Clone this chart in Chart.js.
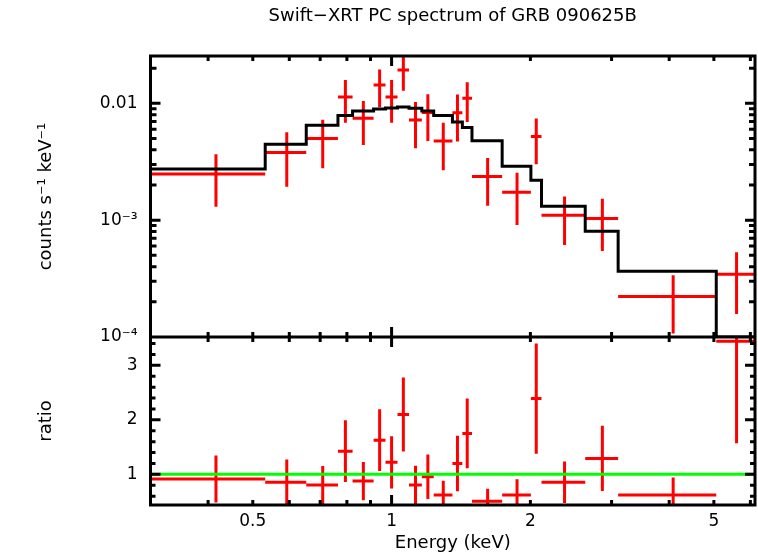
<!DOCTYPE html>
<html>
<head>
<meta charset="utf-8">
<script src="https://cdn.jsdelivr.net/npm/chart.js@4.4.1/dist/chart.umd.min.js"></script>
<style>
  html, body { margin: 0; padding: 0; background: #fff; }
  #wrap { width: 758px; height: 556px; position: relative; }
</style>
</head>
<body>
<div id="wrap"><canvas id="spec"></canvas></div>
<script>
// energy bins (keV)
const binLo = [0.300, 0.532, 0.653, 0.765, 0.823, 0.914, 0.970, 1.030, 1.091, 1.163,
               1.234, 1.355, 1.424, 1.494, 1.737, 2.005, 2.114, 2.630, 3.100, 5.060];
const binHi = [0.532, 0.653, 0.765, 0.823, 0.914, 0.970, 1.030, 1.091, 1.163, 1.234,
               1.355, 1.424, 1.494, 1.737, 2.005, 2.114, 2.630, 3.100, 5.060, 6.140];

// counts s-1 keV-1
const rate    = [2.48e-3, 3.80e-3, 5.01e-3, 1.132e-2, 7.44e-3, 1.436e-2, 1.132e-2, 1.928e-2, 7.19e-3, 8.37e-3,
                 4.75e-3, 8.31e-3, 1.104e-2, 2.37e-3, 1.73e-3, 5.21e-3, 1.104e-3, 1.034e-3, 2.22e-4, 3.44e-4];
const rateErr = [1.18e-3, 1.87e-3, 2.23e-3, 4.5e-3, 3.04e-3, 5.1e-3, 4.5e-3, 6.45e-3, 3.06e-3, 3.6e-3,
                 2.08e-3, 3.6e-3, 4.1e-3, 1.04e-3, 8.2e-4, 2.2e-3, 4.9e-4, 4.9e-4, 1.15e-4, 1.87e-4];
const model   = [2.74e-3, 4.46e-3, 6.48e-3, 7.89e-3, 8.59e-3, 8.93e-3, 9.12e-3, 9.30e-3, 9.06e-3, 8.59e-3,
                 7.89e-3, 6.92e-3, 6.22e-3, 4.78e-3, 2.90e-3, 2.20e-3, 1.318e-3, 8.05e-4, 3.66e-4, 1.0e-4];

// data / model
const ratio    = [0.914, 0.854, 0.804, 1.426, 0.877, 1.628, 1.22, 2.098, 0.804, 0.956,
                  0.621, 1.20, 1.75, 0.506, 0.621, 2.39, 0.854, 1.293, 0.621, 3.44];
const ratioErr = [0.43, 0.42, 0.35, 0.565, 0.35, 0.565, 0.48, 0.68, 0.355, 0.41,
                  0.26, 0.51, 0.64, 0.23, 0.29, 1.01, 0.38, 0.60, 0.32, 1.87];

const xTickLabels = [0.5, 1, 2, 5];
const rateTicks = [1e-4, 1e-3, 1e-2];
const rateTickText = ['10\u207b\u2074', '10\u207b\u00b3', '0.01'];
const ratioTicks = [1, 2, 3];

const FONT = 'DejaVu Sans';

// one cross per bin: horizontal bar over the bin, vertical bar at its centre
function crosses(val, err) {
  const pts = [];
  val.forEach((v, i) => {
    const c = (binLo[i] + binHi[i]) / 2;
    pts.push({x: binLo[i], y: v}, {x: binHi[i], y: v}, {x: c, y: null},
             {x: c, y: v - err[i]}, {x: c, y: v + err[i]}, {x: c, y: null});
  });
  return pts;
}

function steps(vals) {
  const pts = vals.map((v, i) => ({x: binLo[i], y: v}));
  pts.push({x: binHi[binHi.length - 1], y: vals[vals.length - 1]});
  return pts;
}

// keep each dataset inside its own panel
const panelClip = {
  id: 'panelClip',
  beforeDatasetDraw(chart, args) {
    const ys = chart.scales[args.meta.yAxisID];
    const a = chart.chartArea;
    chart.ctx.save();
    chart.ctx.beginPath();
    chart.ctx.rect(a.left, ys.top, a.right - a.left, ys.bottom - ys.top);
    chart.ctx.clip();
  },
  afterDatasetDraw(chart) {
    chart.ctx.restore();
  }
};

// box round both panels with inward ticks
const frame = {
  id: 'frame',
  afterDraw(chart) {
    const {ctx, chartArea: a} = chart;
    const {x, y, yr} = chart.scales;
    const seg = (x1, y1, x2, y2) => { ctx.moveTo(x1, y1); ctx.lineTo(x2, y2); };
    ctx.save();
    ctx.strokeStyle = '#000';
    ctx.lineWidth = 3;
    ctx.lineCap = 'butt';
    ctx.beginPath();
    for (const p of [y, yr]) {
      for (let d = -1; d <= 0; d++) {
        for (let m = 1; m <= 9; m++) {
          const v = m * Math.pow(10, d);
          if (v < x.min || v > x.max) continue;
          const px = x.getPixelForValue(v);
          const len = m === 1 ? 10 : 5;
          seg(px, p.top, px, p.top + len);
          seg(px, p.bottom, px, p.bottom - len);
        }
      }
    }
    for (let d = -4; d <= -2; d++) {
      for (let m = 1; m <= 9; m++) {
        const v = m * Math.pow(10, d);
        if (v < y.min || v > y.max) continue;
        const py = y.getPixelForValue(v);
        const len = m === 1 ? 10 : 6;
        seg(a.left, py, a.left + len, py);
        seg(a.right, py, a.right - len, py);
      }
    }
    for (let k = 1; k <= 20; k++) {
      const v = k / 5;
      if (v < yr.min || v > yr.max) continue;
      const py = yr.getPixelForValue(v);
      const len = k % 5 === 0 ? 10 : 5;
      seg(a.left, py, a.left + len, py);
      seg(a.right, py, a.right - len, py);
    }
    seg(a.left, yr.top, a.right, yr.top);
    ctx.stroke();
    ctx.strokeRect(a.left, a.top, a.right - a.left, a.bottom - a.top);
    ctx.restore();
  }
};

const tickFont = {family: FONT, size: 17};
const titleFont = {family: FONT, size: 18};

new Chart(document.getElementById('spec'), {
  type: 'line',
  data: {
    datasets: [
      {
        label: 'ratio = 1',
        data: [{x: binLo[0], y: 1}, {x: binHi[binHi.length - 1], y: 1}],
        yAxisID: 'yr',
        borderColor: '#00ff00',
        borderWidth: 3,
        pointRadius: 0
      },
      {
        label: 'model',
        data: steps(model),
        yAxisID: 'y',
        stepped: 'before',
        borderColor: '#000',
        borderWidth: 3,
        pointRadius: 0
      },
      {
        label: 'data',
        data: crosses(rate, rateErr),
        yAxisID: 'y',
        borderColor: '#ff0000',
        borderWidth: 3,
        pointRadius: 0,
        spanGaps: false
      },
      {
        label: 'ratio',
        data: crosses(ratio, ratioErr),
        yAxisID: 'yr',
        borderColor: '#ff0000',
        borderWidth: 3,
        pointRadius: 0,
        spanGaps: false
      }
    ]
  },
  options: {
    responsive: true,
    maintainAspectRatio: false,
    animation: false,
    layout: { padding: {left: 0, right: 3, top: 0, bottom: 0} },
    plugins: {
      legend: {display: false},
      tooltip: {enabled: false},
      title: {
        display: true,
        text: 'Swift\u2212XRT PC spectrum of GRB 090625B',
        fullSize: false,
        color: '#000',
        font: {family: FONT, size: 18, weight: 'normal'},
        padding: {top: 6, bottom: 28.4}
      }
    },
    scales: {
      x: {
        type: 'logarithmic',
        position: 'bottom',
        min: 0.3,
        max: 6.14,
        afterBuildTicks: s => { s.ticks = xTickLabels.map(v => ({value: v})); },
        afterFit: s => { s.height = 51; },
        grid: {display: false, drawTicks: false},
        border: {display: false},
        ticks: {font: tickFont, color: '#000', padding: 6, maxRotation: 0, autoSkip: false,
                callback: v => String(v)},
        title: {display: true, text: 'Energy (keV)', font: titleFont, color: '#000',
                padding: {top: 0, bottom: 2}}
      },
      yr: {
        type: 'linear',
        position: 'left',
        stack: 'panels',
        stackWeight: 168,
        weight: 0,
        min: 0.438,
        max: 3.52,
        afterBuildTicks: s => { s.ticks = ratioTicks.map(v => ({value: v})); },
        afterFit: s => { s.width = 150.5; },
        grid: {display: false, drawTicks: false},
        border: {display: false},
        ticks: {font: tickFont, color: '#000', padding: 13, autoSkip: false,
                callback: v => String(v)},
        title: {display: true, text: 'ratio', font: titleFont, color: '#000',
                padding: {top: 36, bottom: 0}}
      },
      y: {
        type: 'logarithmic',
        position: 'left',
        stack: 'panels',
        stackWeight: 281,
        weight: 1,
        min: 1e-4,
        max: 0.02543,
        afterBuildTicks: s => { s.ticks = rateTicks.map(v => ({value: v})); },
        afterFit: s => { s.width = 150.5; },
        grid: {display: false, drawTicks: false},
        border: {display: false},
        ticks: {font: tickFont, color: '#000', padding: 13, autoSkip: false,
                callback: v => rateTickText[rateTicks.indexOf(v)]},
        title: {display: true, text: 'counts s\u207b\u00b9 keV\u207b\u00b9', font: titleFont, color: '#000',
                padding: {top: 36, bottom: 0}}
      }
    }
  },
  plugins: [panelClip, frame]
});
</script>
</body>
</html>
